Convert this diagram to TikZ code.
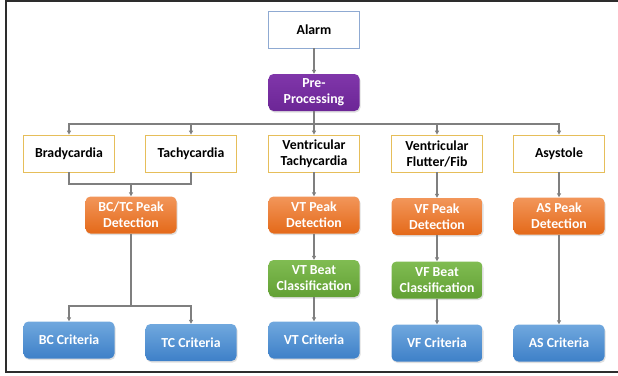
\documentclass[tikz,border=0pt]{standalone}
\usepackage{fontspec}
\setmainfont{Carlito}
\usetikzlibrary{arrows.meta,shadows}

\definecolor{linegray}{RGB}{127,127,127}
\definecolor{framegray}{RGB}{45,45,45}
\definecolor{alarmedge}{RGB}{143,170,210}
\definecolor{goldedge}{RGB}{230,190,90}
\definecolor{purpletop}{RGB}{128,54,170}
\definecolor{purplebot}{RGB}{108,38,150}
\definecolor{orangetop}{RGB}{242,150,90}
\definecolor{orangebot}{RGB}{228,105,25}
\definecolor{greentop}{RGB}{128,188,82}
\definecolor{greenbot}{RGB}{98,160,52}
\definecolor{bluetop}{RGB}{112,168,222}
\definecolor{bluebot}{RGB}{62,128,200}

\begin{document}
\begin{tikzpicture}[x=1pt,y=-1pt,
   box/.style={minimum width=91pt,minimum height=37pt,inner sep=1pt,align=center,
      font=\fontsize{13.8}{16}\selectfont\bfseries},
   plainbox/.style={box,draw=goldedge,line width=0.8pt,fill=white,text=black},
   alarmbox/.style={plainbox,draw=alarmedge},
   colbox/.style={box,rounded corners=5pt,text=white,
      drop shadow={shadow xshift=1pt,shadow yshift=-1.5pt,opacity=0.25}},
   purplebox/.style={colbox,top color=purpletop,bottom color=purplebot},
   orangebox/.style={colbox,top color=orangetop,bottom color=orangebot},
   greenbox/.style={colbox,top color=greentop,bottom color=greenbot},
   bluebox/.style={colbox,top color=bluetop,bottom color=bluebot},
   conn/.style={linegray,line width=1.6pt},
   arr/.style={conn,-{Triangle[length=4pt,width=4pt]}}]
   \useasboundingbox (0,0) rectangle (618,375);
   % frame (right side runs off the page)
   \draw[framegray,line width=1.8pt] (620,1) -- (6,1) -- (6,372) -- (620,372);

   % top
   \node[alarmbox]  (alarm) at (314,29.5) {Alarm};
   \node[purplebox] (pre)   at (314,92.5) {Pre-\\Processing};

   % alarm types
   \node[plainbox] (brady) at (69,153.5)  {Bradycardia};
   \node[plainbox] (tachy) at (191,153.5) {Tachycardia};
   \node[plainbox] (vtach) at (314,153.5) {Ventricular\\Tachycardia};
   \node[plainbox] (vflut) at (437,153.5) {Ventricular\\Flutter/Fib};
   \node[plainbox] (asys)  at (559,153.5) {Asystole};

   % peak detection
   \node[orangebox] (bctcpk) at (131,215)   {BC/TC Peak\\Detection};
   \node[orangebox] (vtpk)   at (314,215)   {VT Peak\\Detection};
   \node[orangebox] (vfpk)   at (437,216.5) {VF Peak\\Detection};
   \node[orangebox] (aspk)   at (559,216)   {AS Peak\\Detection};

   % beat classification
   \node[greenbox] (vtbeat) at (314,278.5) {VT Beat\\Classification};
   \node[greenbox] (vfbeat) at (437,280)   {VF Beat\\Classification};

   % criteria
   \node[bluebox] (bccrit) at (69,340)    {BC Criteria};
   \node[bluebox] (tccrit) at (191,342.5) {TC Criteria};
   \node[bluebox] (vtcrit) at (314,340)   {VT Criteria};
   \node[bluebox] (vfcrit) at (437,343)   {VF Criteria};
   \node[bluebox] (ascrit) at (559,343)   {AS Criteria};

   \coordinate (bus)   at (314,124);
   \coordinate (join)  at (131,184);
   \coordinate (split) at (131,306);

   \draw[arr] (alarm) -- (pre);
   \draw[conn] (pre) -- (bus);
   \draw[arr] (bus) -| (brady);
   \draw[arr] (bus) -| (tachy);
   \draw[arr] (bus) -- (vtach);
   \draw[arr] (bus) -| (vflut);
   \draw[arr] (bus) -| (asys);

   \draw[conn] (brady) |- (join);
   \draw[conn] (tachy) |- (join);
   \draw[arr] (join) -- (bctcpk);
   \draw[conn] (bctcpk) -- (split);
   \draw[arr] (split) -| (bccrit);
   \draw[arr] (split) -| (tccrit);

   \draw[arr] (vtach) -- (vtpk);
   \draw[arr] (vtpk) -- (vtbeat);
   \draw[arr] (vtbeat) -- (vtcrit);
   \draw[arr] (vflut) -- (vfpk);
   \draw[arr] (vfpk) -- (vfbeat);
   \draw[arr] (vfbeat) -- (vfcrit);
   \draw[arr] (asys) -- (aspk);
   \draw[arr] (aspk) -- (ascrit);
\end{tikzpicture}
\end{document}
